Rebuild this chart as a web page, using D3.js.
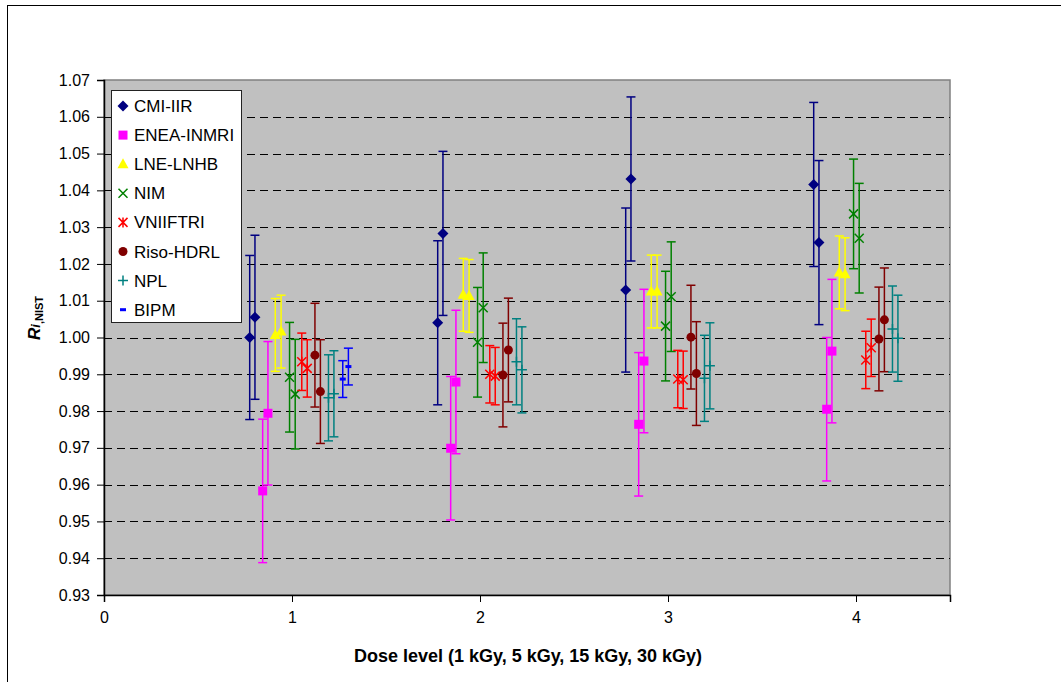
<!DOCTYPE html>
<html>
<head>
<meta charset="utf-8">
<script src="https://cdn.jsdelivr.net/npm/d3@7"></script>
<style>
  html, body { margin: 0; padding: 0; background: #ffffff; }
  svg text { font-family: "Liberation Sans", Arial, sans-serif; }
</style>
</head>
<body>
<svg id="chart" width="1061" height="682"></svg>
<script>
// ---------------- data ----------------
const doseLevels = [1, 2, 3, 4];
const xTicks = [0, 1, 2, 3, 4];
const yTicks = [0.93, 0.94, 0.95, 0.96, 0.97, 0.98, 0.99, 1.00, 1.01, 1.02, 1.03, 1.04, 1.05, 1.06, 1.07];
const labs = ["CMI-IIR", "ENEA-INMRI", "LNE-LNHB", "NIM", "VNIIFTRI", "Riso-HDRL", "NPL", "BIPM"];

// two results per dose level (pairs), per lab
const cmiValues   = [[1.0000, 1.0055], [1.0040, 1.0283], [1.0129, 1.0431], [1.0416, 1.0258]];
const eneaValues  = [[0.9583, 0.9794], [0.9699, 0.9879], [0.9764, 0.9936], [0.9805, 0.9963]];
const lneValues   = [[1.0007, 1.0016], [1.0116, 1.0113], [1.0125, 1.0125], [1.0177, 1.0172]];
const nimValues   = [[0.9892, 0.9846], [0.9987, 1.0081], [1.0031, 1.0111], [1.0336, 1.0270]];
const vniiValues  = [[0.9934, 0.9916], [0.9900, 0.9895], [0.9887, 0.9885], [0.9939, 0.9972]];
const risoValues  = [[0.9952, 0.9853], [0.9898, 0.9966], [1.0001, 0.9902], [0.9996, 1.0048]];
const nplValues   = [[0.9836, 0.9847], [0.9934, 0.9912], [0.9889, 0.9923], [1.0023, 0.9998]];
const bipmValues  = [[0.9887, 0.9921]];

// expanded uncertainty (error bar half-length) per lab
const labUncertainty = [0.0223, 0.0195, 0.0099, 0.0149, 0.0078, 0.0141, 0.0117, 0.0050];
// x offset of each of the two results from the dose level
const labOffsets = [[-0.225, -0.197], [-0.156, -0.128], [-0.089, -0.058], [-0.013, 0.017],
                    [0.052, 0.081], [0.122, 0.151], [0.194, 0.223], [0.270, 0.300]];

const labValues = [cmiValues, eneaValues, lneValues, nimValues, vniiValues, risoValues, nplValues, bipmValues];
const labColors = ["#000080", "#FF00FF", "#FFFF00", "#008000", "#FF0000", "#800000", "#008080", "#0000FF"];
const labMarkers = ["diamond", "square", "triangle", "cross", "star", "circle", "plus", "dash"];

// ---------------- layout ----------------
const svg = d3.select("#chart");
const plot = { left: 104, top: 80, right: 950, bottom: 595 };

const x = d3.scaleLinear().domain([0, 4.5]).range([plot.left, plot.right]);
const y = d3.scaleLinear().domain([0.93, 1.07]).range([plot.bottom, plot.top]);

// outer frame
svg.append("rect").attr("x", 7.5).attr("y", 5.5).attr("width", 1070).attr("height", 690)
  .attr("fill", "#fff").attr("stroke", "#000").attr("stroke-width", 1);

// plot background
svg.append("rect").attr("x", plot.left).attr("y", plot.top)
  .attr("width", plot.right - plot.left).attr("height", plot.bottom - plot.top)
  .attr("fill", "#C0C0C0").attr("stroke", "#808080").attr("stroke-width", 1.5);

// gridlines
svg.append("g").selectAll("line")
  .data(yTicks.filter(t => t > 0.9305 && t < 1.0695))
  .join("line")
  .attr("x1", plot.left).attr("x2", plot.right)
  .attr("y1", d => Math.round(y(d)) + 0.5).attr("y2", d => Math.round(y(d)) + 0.5)
  .attr("stroke", "#000").attr("stroke-width", 1).attr("stroke-dasharray", "8,5");

// axes
const yAxis = d3.axisLeft(y).tickValues(yTicks).tickFormat(d3.format(".2f")).tickSize(7).tickPadding(7);
const gy = svg.append("g").attr("transform", `translate(${plot.left},0)`).call(yAxis);
gy.select(".domain").attr("stroke", "#000").attr("stroke-width", 1.5);
gy.selectAll(".tick line").attr("stroke", "#000");
gy.selectAll(".tick text").attr("font-size", 16).attr("fill", "#000")
  .attr("font-family", "'Liberation Sans', Arial, sans-serif");

const xAxis = d3.axisBottom(x).tickValues(xTicks).tickFormat(d3.format("d")).tickSize(7).tickPadding(10);
const gx = svg.append("g").attr("transform", `translate(0,${plot.bottom})`).call(xAxis);
gx.select(".domain").attr("stroke", "#000").attr("stroke-width", 1.5);
gx.selectAll(".tick line").attr("stroke", "#000");
gx.selectAll(".tick text").attr("font-size", 16).attr("fill", "#000")
  .attr("font-family", "'Liberation Sans', Arial, sans-serif");

// axis titles
svg.append("text").attr("x", 528).attr("y", 662).attr("text-anchor", "middle")
  .attr("font-size", 18).attr("font-weight", "bold")
  .text("Dose level (1 kGy, 5 kGy, 15 kGy, 30 kGy)");

const yt = svg.append("text").attr("transform", "translate(40,318) rotate(-90)")
  .attr("text-anchor", "middle").attr("font-weight", "bold");
yt.append("tspan").attr("font-size", 17).attr("font-style", "italic").text("R");
yt.append("tspan").attr("font-size", 13).attr("font-style", "italic").text("i");
yt.append("tspan").attr("font-size", 11).attr("dy", 3).text(",NIST");

// ---------------- markers ----------------
function drawMarker(g, type, color, cx, cy) {
  switch (type) {
    case "diamond":
      g.append("path").attr("d", `M${cx},${cy - 5.5}L${cx + 5.5},${cy}L${cx},${cy + 5.5}L${cx - 5.5},${cy}Z`).attr("fill", color);
      break;
    case "square":
      g.append("rect").attr("x", cx - 4.5).attr("y", cy - 4.5).attr("width", 9).attr("height", 9).attr("fill", color);
      break;
    case "triangle":
      g.append("path").attr("d", `M${cx},${cy - 6}L${cx + 5.5},${cy + 4}L${cx - 5.5},${cy + 4}Z`).attr("fill", color);
      break;
    case "cross":
      g.append("path").attr("d", `M${cx - 4.5},${cy - 4.5}L${cx + 4.5},${cy + 4.5}M${cx - 4.5},${cy + 4.5}L${cx + 4.5},${cy - 4.5}`)
        .attr("stroke", color).attr("stroke-width", 1.5).attr("fill", "none");
      break;
    case "star":
      g.append("path").attr("d", `M${cx - 4.5},${cy - 4.5}L${cx + 4.5},${cy + 4.5}M${cx - 4.5},${cy + 4.5}L${cx + 4.5},${cy - 4.5}M${cx},${cy - 5}L${cx},${cy + 5}`)
        .attr("stroke", color).attr("stroke-width", 1.5).attr("fill", "none");
      break;
    case "circle":
      g.append("circle").attr("cx", cx).attr("cy", cy).attr("r", 4.5).attr("fill", color);
      break;
    case "plus":
      g.append("path").attr("d", `M${cx - 5},${cy}L${cx + 5},${cy}M${cx},${cy - 5}L${cx},${cy + 5}`)
        .attr("stroke", color).attr("stroke-width", 1.5).attr("fill", "none");
      break;
    case "dash":
      g.append("rect").attr("x", cx - 3).attr("y", cy - 1.5).attr("width", 6).attr("height", 3).attr("fill", color);
      break;
  }
}

// ---------------- series ----------------
labs.forEach((lab, i) => {
  const g = svg.append("g").attr("class", "series");
  const u = labUncertainty[i];
  const color = labColors[i];
  const pts = [];
  labValues[i].forEach((pair, di) => {
    pair.forEach((v, k) => pts.push({ xv: doseLevels[di] + labOffsets[i][k], v }));
  });
  pts.forEach(p => {
    const cx = x(p.xv);
    const y1 = y(p.v + u), y2 = y(p.v - u);
    g.append("line").attr("x1", cx).attr("x2", cx).attr("y1", y1).attr("y2", y2)
      .attr("stroke", color).attr("stroke-width", 1.5);
    [y1, y2].forEach(yy => g.append("line").attr("x1", cx - 4.5).attr("x2", cx + 4.5)
      .attr("y1", yy).attr("y2", yy).attr("stroke", color).attr("stroke-width", 1.5));
  });
  pts.forEach(p => drawMarker(g, labMarkers[i], color, x(p.xv), y(p.v)));
});

// ---------------- legend ----------------
const legend = svg.append("g");
legend.append("rect").attr("x", 111.5).attr("y", 90.5).attr("width", 130).attr("height", 232)
  .attr("fill", "#fff").attr("stroke", "#222").attr("stroke-width", 1);
labs.forEach((lab, i) => {
  const ly = 106 + i * 29.1;
  drawMarker(legend, labMarkers[i], labColors[i], 123, ly);
  legend.append("text").attr("x", 134).attr("y", ly + 6).attr("font-size", 17).attr("fill", "#000").text(lab);
});
</script>
</body>
</html>
